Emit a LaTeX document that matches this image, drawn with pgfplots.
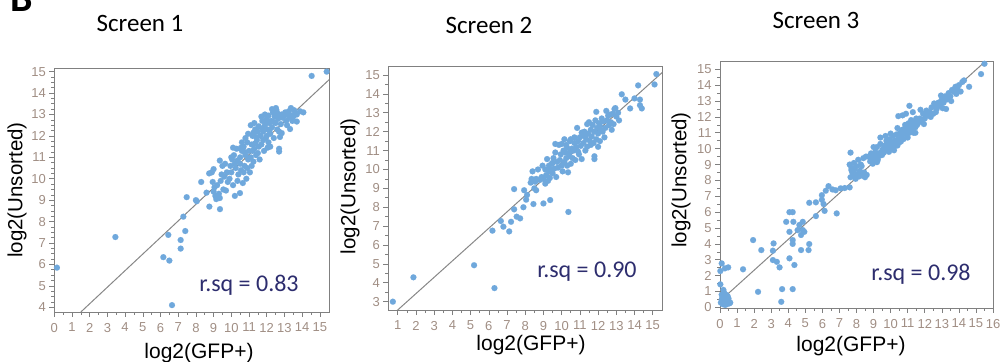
\documentclass[border=0pt]{standalone}
\usepackage{pgfplots}
\pgfplotsset{compat=1.18}
\usepackage{fontspec}
\setmainfont{Liberation Sans}
\newfontfamily\carlito{Carlito}
\definecolor{ptblue}{RGB}{111,168,220}
\definecolor{axgray}{RGB}{128,128,128}
\definecolor{linegray}{RGB}{135,135,135}
\definecolor{tickcol}{RGB}{160,142,132}
\definecolor{navy}{RGB}{45,45,110}
\pgfplotsset{
  panel/.style={
    scale only axis, anchor=south west, clip=true,
    axis line style={draw=axgray, line width=0.8bp},
    tick style={draw=axgray, line width=0.6bp},
    major tick length=5bp, minor tick length=3bp,
    tick align=outside, xtick pos=bottom, ytick pos=left,
    minor x tick num=1,
    /pgf/number format/assume math mode=true,
    tick label style={font=\fontsize{13bp}{13bp}\selectfont, text=tickcol},
    xticklabel style={yshift=-2.5bp},
  },
  pts/.style={only marks, mark=*, mark size=3bp, mark options={fill=ptblue, draw=ptblue, line width=0.1pt}},
  reg/.style={no marks, draw=linegray, line width=1bp},
}
\begin{document}
\begin{tikzpicture}
\useasboundingbox (0bp,0bp) rectangle (1002bp,362bp);
% ---------------- Screen 1
\begin{axis}[panel, at={(54.3bp,50bp)}, width=274.7bp, height=244bp,
  xmin=0, xmax=15.52, ymin=3.78, ymax=15.17,
  xtick={0,...,15}, ytick={4,...,15}, minor y tick num=3]
\addplot[reg] coordinates {(1.5,3.78) (15.6,14.68)};
\addplot[pts] coordinates {
(0.15,5.85) (3.45,7.28) (6.16,6.34) (6.5,6.18) (6.44,7.38) (6.65,4.1) (7.14,7.14) (7.14,6.74)
(7.29,8.23) (7.4,7.56) (7.48,9.14) (8.0,9.0) (8.05,8.95) (8.3,9.85) (8.76,8.7) (8.6,9.35)
(9.36,8.58) (14.54,14.8) (15.39,15.0) (14.07,13.1) (13.7,12.67) (13.32,12.32) (12.85,12.13)
(12.7,11.27) (12.7,11.4) (13.37,13.3) (12.52,13.3) (13.88,13.15)
(8.75,10.25) (8.9,10.3) (9.0,10.45) (9.05,9.6) (9.1,9.2) (9.15,9.05) (9.0,9.4) (9.2,9.7) (8.95,9.85)
(9.3,9.3) (9.35,9.1) (9.4,9.9) (9.5,10.6) (9.6,10.1) (9.55,9.5) (9.7,9.45) (9.75,10.3) (9.45,10.2) (9.8,9.85) (9.65,10.7) (9.35,10.85)
(9.9,10.0) (10.0,10.3) (10.05,10.9) (10.1,9.7) (10.2,9.2) (10.15,11.1) (10.25,10.5) (10.3,11.4) (10.35,9.9) (10.0,11.0) (10.4,10.2) (9.95,10.6) (10.2,10.7) (10.1,11.45) (10.35,10.85) (10.49,9.33)
(10.5,11.0) (10.55,10.4) (10.6,11.3) (10.65,9.8) (10.7,11.5) (10.75,10.6) (10.8,11.1) (10.85,10.0) (10.9,11.7) (10.95,10.9) (10.5,10.7) (10.6,11.7) (10.7,10.3) (10.8,11.9) (10.9,10.5) (11.0,11.3) (10.95,12.1) (10.55,11.45) (10.75,11.25)
(11.05,10.3) (11.1,11.0) (11.15,11.6) (11.2,12.0) (11.25,10.8) (11.3,11.4) (11.35,12.3) (11.4,11.1) (11.45,11.8) (11.5,12.2) (11.55,11.5) (11.6,10.9) (11.1,12.5) (11.2,11.3) (11.3,12.6) (11.4,11.95) (11.5,11.2) (11.15,10.6) (11.35,11.65) (11.55,12.45) (11.25,12.15)
(11.65,12.0) (11.7,11.6) (11.75,12.7) (11.8,12.2) (11.85,11.3) (11.9,12.5) (11.95,11.9) (12.0,12.8) (12.05,12.3) (12.1,11.7) (12.15,12.6) (12.2,12.1) (11.7,12.9) (11.8,11.8) (11.9,13.0) (12.0,12.0) (12.1,12.95) (12.2,11.5) (11.75,12.35) (11.95,12.65) (12.05,11.45) (12.15,12.25)
(12.25,12.7) (12.3,12.4) (12.35,13.1) (12.4,11.9) (12.45,12.9) (12.5,12.6) (12.55,13.2) (12.6,12.3) (12.65,12.8) (12.7,13.0) (12.75,11.95) (12.8,12.55) (12.85,13.0) (12.3,13.25) (12.4,12.65) (12.6,13.05) (12.7,12.2) (12.9,12.85)
(13.0,12.95) (13.1,12.7) (13.2,13.0) (13.3,12.85) (13.4,12.95) (13.5,12.9) (13.6,13.05) (13.05,13.1) (13.15,12.5) (13.25,13.15) (13.45,12.7) (13.7,13.0) (13.55,13.2)
};
\end{axis}
% ---------------- Screen 2
\begin{axis}[panel, at={(388.3bp,52bp)}, width=273.7bp, height=243.3bp,
  xmin=0.48, xmax=15.51, ymin=2.56, ymax=15.44,
  xtick={1,...,15}, ytick={3,...,15}, minor y tick num=1]
\addplot[reg] coordinates {(0.95,2.52) (15.6,15.2)};
\addplot[pts] coordinates {
(0.73,3.0) (1.86,4.29) (5.19,4.93) (6.31,3.72) (6.2,6.76) (6.66,7.27) (6.8,6.97) (7.12,6.72) (7.22,7.23)
(7.39,8.96) (7.39,7.89) (7.53,7.5) (7.72,7.41) (7.9,8.0) (10.37,7.75) (9.0,8.2) (9.37,8.38) (8.45,8.17)
(7.94,8.9) (8.05,8.4) (8.1,8.65) (8.6,8.9)
(15.2,15.05) (15.1,14.5) (14.2,14.45) (14.4,13.23) (14.3,13.4) (13.76,13.23) (14.0,13.76) (14.3,13.7) (13.3,13.98) (13.5,13.7)
(8.3,9.3) (8.4,9.9) (8.5,9.0) (8.6,9.5) (8.7,10.0) (8.8,9.45) (8.9,9.6) (8.35,9.5) (8.55,9.35) (8.95,10.2)
(9.0,9.5) (9.1,10.0) (9.15,9.7) (9.2,10.55) (9.25,9.4) (9.3,10.2) (9.35,9.55) (9.4,10.0) (9.45,10.3) (9.5,9.8) (9.55,10.6) (9.6,10.05) (9.65,10.9) (9.7,9.6) (9.75,10.4) (9.8,10.1) (9.1,9.25) (9.3,9.9) (9.5,10.35) (9.65,11.35) (9.85,11.3)
(9.9,10.5) (9.95,10.8) (10.0,10.2) (10.05,9.9) (10.1,11.0) (10.15,10.4) (10.2,10.9) (10.25,10.6) (10.3,11.15) (10.35,9.85) (10.4,10.7) (10.45,11.5) (10.5,10.3) (10.55,11.1) (10.6,10.6) (10.0,11.35) (10.15,11.6) (10.3,10.2) (10.5,11.6) (10.25,11.3) (10.45,10.9)
(10.65,11.0) (10.7,11.4) (10.75,10.5) (10.8,11.2) (10.85,12.2) (10.9,11.5) (10.95,10.8) (11.0,11.7) (11.05,11.25) (11.1,10.55) (11.15,11.8) (11.2,11.4) (11.25,12.0) (11.3,11.0) (11.35,11.6) (11.4,12.4) (10.7,11.7) (10.9,10.95) (11.1,11.95) (11.3,11.75) (11.4,11.2)
(11.45,11.9) (11.5,12.5) (11.55,11.5) (11.6,12.1) (11.65,11.75) (11.7,12.35) (11.75,11.4) (11.8,12.0) (11.85,12.6) (11.9,11.6) (11.95,12.2) (12.0,11.9) (12.05,12.45) (12.1,11.5) (12.15,12.1) (12.2,12.7) (11.6,11.3) (11.9,13.05) (12.1,12.3) (12.0,11.2) (11.8,10.55) (11.8,10.7)
(12.25,12.0) (12.3,12.55) (12.4,12.2) (12.45,13.1) (12.5,12.6) (12.6,12.35) (12.65,12.9) (12.7,12.5) (12.8,12.95) (12.85,12.4) (12.9,13.2) (13.0,12.8) (13.1,13.0) (13.15,12.6) (12.35,11.7) (12.55,12.85) (12.75,12.1) (12.95,13.25)
};
\end{axis}
% ---------------- Screen 3
\begin{axis}[panel, at={(720bp,54bp)}, width=273bp, height=246.3bp,
  xmin=0, xmax=16, ymin=-0.04, ymax=15.48,
  xtick={0,...,16}, ytick={0,...,15}, minor y tick num=1]
\addplot[reg] coordinates {(0,0.4) (15.6,15.55)};
\addplot[pts] coordinates {
(0.05,0.3) (0.1,0.5) (0.15,0.2) (0.2,0.4) (0.25,0.3) (0.3,0.6) (0.35,0.25) (0.4,0.45) (0.45,0.35) (0.5,0.3) (0.55,0.25) (0.6,0.3)
(0.1,0.8) (0.2,1.1) (0.35,0.8) (0.02,1.45) (0.15,0.65) (0.3,0.15) (0.45,0.7) (0.25,0.9) (0.5,0.55) (0.4,0.2)
(0.02,2.29) (0.1,2.77) (0.29,2.46) (0.48,2.52) (1.35,2.4)
(1.94,4.24) (2.42,3.61) (2.23,0.98) (3.14,4.03) (3.1,3.57) (3.1,2.98) (3.33,2.87) (3.49,2.52) (3.59,0.35) (3.64,1.15)
(3.88,5.39) (4.07,6.0) (4.26,6.0) (4.07,4.76) (4.07,3.09) (4.26,4.24) (4.26,4.0) (4.26,1.15) (4.36,2.67) (4.3,5.39)
(4.55,4.87) (4.65,5.19) (4.75,4.56) (4.75,3.61) (4.85,5.39) (4.94,4.76) (4.85,4.87) (5.23,3.99) (5.19,3.61) (5.23,6.59)
(5.62,6.62) (5.62,5.75) (5.97,7.07) (6.07,6.51) (6.13,6.08) (5.97,6.78) (6.2,7.35) (6.36,7.64) (6.59,7.43) (6.78,7.38)
(6.84,5.92) (7.07,7.5) (7.31,7.52) (7.6,7.56)
(7.65,9.75) (7.6,9.0) (7.7,8.8) (7.75,8.5) (7.8,8.3) (7.65,8.2) (7.85,9.1) (7.9,8.7) (8.0,8.9) (8.05,8.4) (8.1,9.3) (8.15,8.25) (8.2,8.6) (8.3,8.9) (8.35,8.3) (8.4,9.4) (8.45,8.5) (8.5,8.2) (7.7,8.65) (7.95,8.1) (8.25,9.0) (8.55,9.5) (8.6,8.35)
(8.7,9.5) (8.8,9.2) (8.85,9.7) (8.9,9.4) (9.0,9.6) (9.05,9.35) (9.1,9.8) (9.15,9.5) (9.2,10.1) (9.25,9.3) (9.3,9.7) (9.35,9.55) (9.4,10.3) (9.45,9.8) (9.5,9.6) (9.55,10.0) (9.6,9.75) (9.0,10.1) (9.2,9.15) (9.4,10.7) (8.95,9.05)
(9.65,10.2) (9.7,9.9) (9.75,10.5) (9.8,10.0) (9.85,10.3) (9.9,9.8) (9.95,10.6) (10.0,10.2) (10.05,10.0) (10.1,10.4) (10.15,10.8) (10.2,10.1) (10.25,10.5) (10.3,10.3) (10.35,10.9) (10.4,10.2) (10.45,10.6) (10.5,10.4) (10.55,11.0) (10.6,10.45) (9.7,10.8) (10.0,10.95) (10.4,11.3) (10.2,9.9) (10.45,12.05)
(10.65,10.8) (10.7,11.2) (10.75,10.6) (10.8,11.0) (10.85,11.5) (10.9,10.9) (10.95,11.3) (11.0,11.1) (11.05,11.6) (11.1,11.0) (11.15,11.4) (11.2,11.8) (11.25,11.2) (11.3,11.5) (11.35,11.0) (11.4,11.7) (11.45,11.35) (11.5,11.9) (11.55,11.5) (11.6,11.6) (10.9,12.2) (11.1,12.7) (10.7,12.1) (11.3,12.3) (11.0,10.7) (11.45,11.0)
(11.7,11.9) (11.8,11.7) (11.9,12.2) (12.0,11.9) (12.1,12.4) (12.2,12.1) (12.3,12.3) (12.4,12.6) (12.5,12.2) (12.6,12.7) (12.7,12.5) (12.8,12.9) (11.75,12.45) (12.05,12.15) (12.35,12.0) (12.55,12.85) (12.65,12.3) (11.95,11.55)
(12.9,12.7) (13.0,13.1) (13.1,12.9) (13.2,13.3) (13.3,13.1) (13.4,13.5) (13.5,13.3) (13.6,13.7) (13.7,13.6) (13.8,13.9) (13.9,13.75) (14.0,14.0) (14.1,13.6) (14.2,14.2) (14.3,14.3) (14.6,13.9) (13.25,12.5) (13.55,13.0) (12.95,13.35) (13.05,12.55) (13.85,13.45)
(15.3,14.7) (15.5,15.35)
};
\end{axis}
% ---------------- texts
\node[font=\carlito\bfseries\fontsize{40bp}{40bp}\selectfont, anchor=base west, inner sep=0] at (10bp,350bp) {B};
\foreach \x/\y/\t in {140/330.3/1, 489/328.7/2, 816/333.7/3}
  \node[font=\carlito\fontsize{25bp}{25bp}\selectfont, anchor=base, inner sep=0] at (\x bp,\y bp) {Screen \t};
\foreach \x/\y in {17/172, 350/175.5, 681/182}
  \node[rotate=90, font=\fontsize{20.5bp}{20.5bp}\selectfont, inner sep=0] at (\x bp,\y bp) {log2(Unsorted)};
\foreach \x/\y in {199/4, 531/12, 851/10.5}
  \node[font=\fontsize{21bp}{21bp}\selectfont, anchor=base, inner sep=0] at (\x bp,\y bp) {log2(GFP+)};
\foreach \x/\y/\t in {249/70.3/0.83, 587/84/0.90, 921/81/0.98}
  \node[font=\carlito\fontsize{24bp}{24bp}\selectfont, text=navy, anchor=base, inner sep=0] at (\x bp,\y bp) {r.sq = \t};
\end{tikzpicture}
\end{document}
